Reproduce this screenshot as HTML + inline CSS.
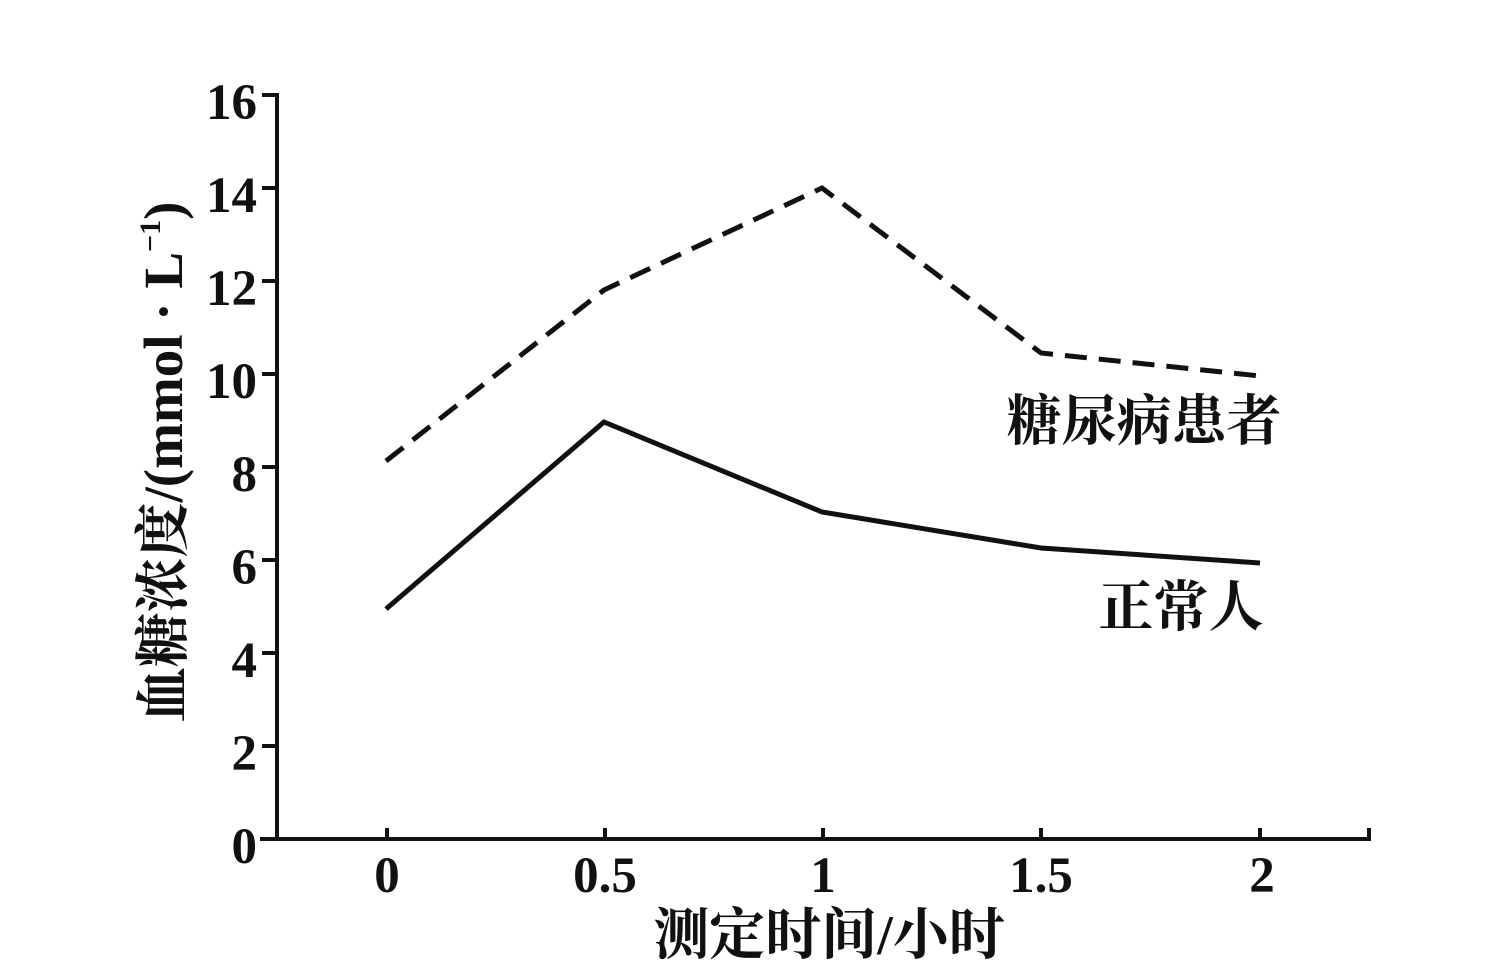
<!DOCTYPE html>
<html><head><meta charset="utf-8"><style>
html,body{margin:0;padding:0;background:#fff;}
svg{display:block;}
text{font-family:"Liberation Serif","Noto Serif CJK SC",serif;font-weight:bold;fill:#111;}
</style></head><body>
<svg width="1500" height="978" viewBox="0 0 1500 978" xmlns="http://www.w3.org/2000/svg">
<g stroke="#111" stroke-width="4" fill="none">
<line x1="277" y1="93" x2="277" y2="841"/>
<line x1="260" y1="839" x2="1371" y2="839"/>
<line x1="262" y1="95" x2="277" y2="95"/>
<line x1="262" y1="188" x2="277" y2="188"/>
<line x1="262" y1="281" x2="277" y2="281"/>
<line x1="262" y1="374" x2="277" y2="374"/>
<line x1="262" y1="467" x2="277" y2="467"/>
<line x1="262" y1="560" x2="277" y2="560"/>
<line x1="262" y1="653" x2="277" y2="653"/>
<line x1="262" y1="746" x2="277" y2="746"/>
<line x1="387" y1="828" x2="387" y2="839"/>
<line x1="605" y1="828" x2="605" y2="839"/>
<line x1="823" y1="828" x2="823" y2="839"/>
<line x1="1041" y1="828" x2="1041" y2="839"/>
<line x1="1260" y1="828" x2="1260" y2="839"/>
<line x1="1369" y1="828" x2="1369" y2="839"/>
<polyline stroke-width="5" points="386,609 604,422 822,512 1041,548 1260,563"/>
<polyline stroke-width="5" stroke-dasharray="22,12" points="386,461 604,290 822,188 1041,353 1260,376"/>
</g>
<g font-size="51" text-anchor="end">
<text x="257" y="119">16</text>
<text x="257" y="212">14</text>
<text x="257" y="305">12</text>
<text x="257" y="398">10</text>
<text x="257" y="491">8</text>
<text x="257" y="584">6</text>
<text x="257" y="677">4</text>
<text x="257" y="770">2</text>
<text x="257" y="863">0</text>
</g>
<g font-size="51" text-anchor="middle">
<text x="387" y="892">0</text>
<text x="605" y="892">0.5</text>
<text x="823" y="892">1</text>
<text x="1041" y="892">1.5</text>
<text x="1262" y="892">2</text>
</g>
<text x="829" y="954" font-size="56" text-anchor="middle">测定时间/小时</text>
<text x="1144" y="440" font-size="55" text-anchor="middle">糖尿病患者</text>
<text x="1181" y="626" font-size="55" text-anchor="middle">正常人</text>
<text transform="translate(182,462) rotate(-90)" font-size="55" text-anchor="middle">血糖浓度/(mmol · L<tspan font-size="30" dy="-22">−1</tspan><tspan dy="22">)</tspan></text>
</svg>
</body></html>
